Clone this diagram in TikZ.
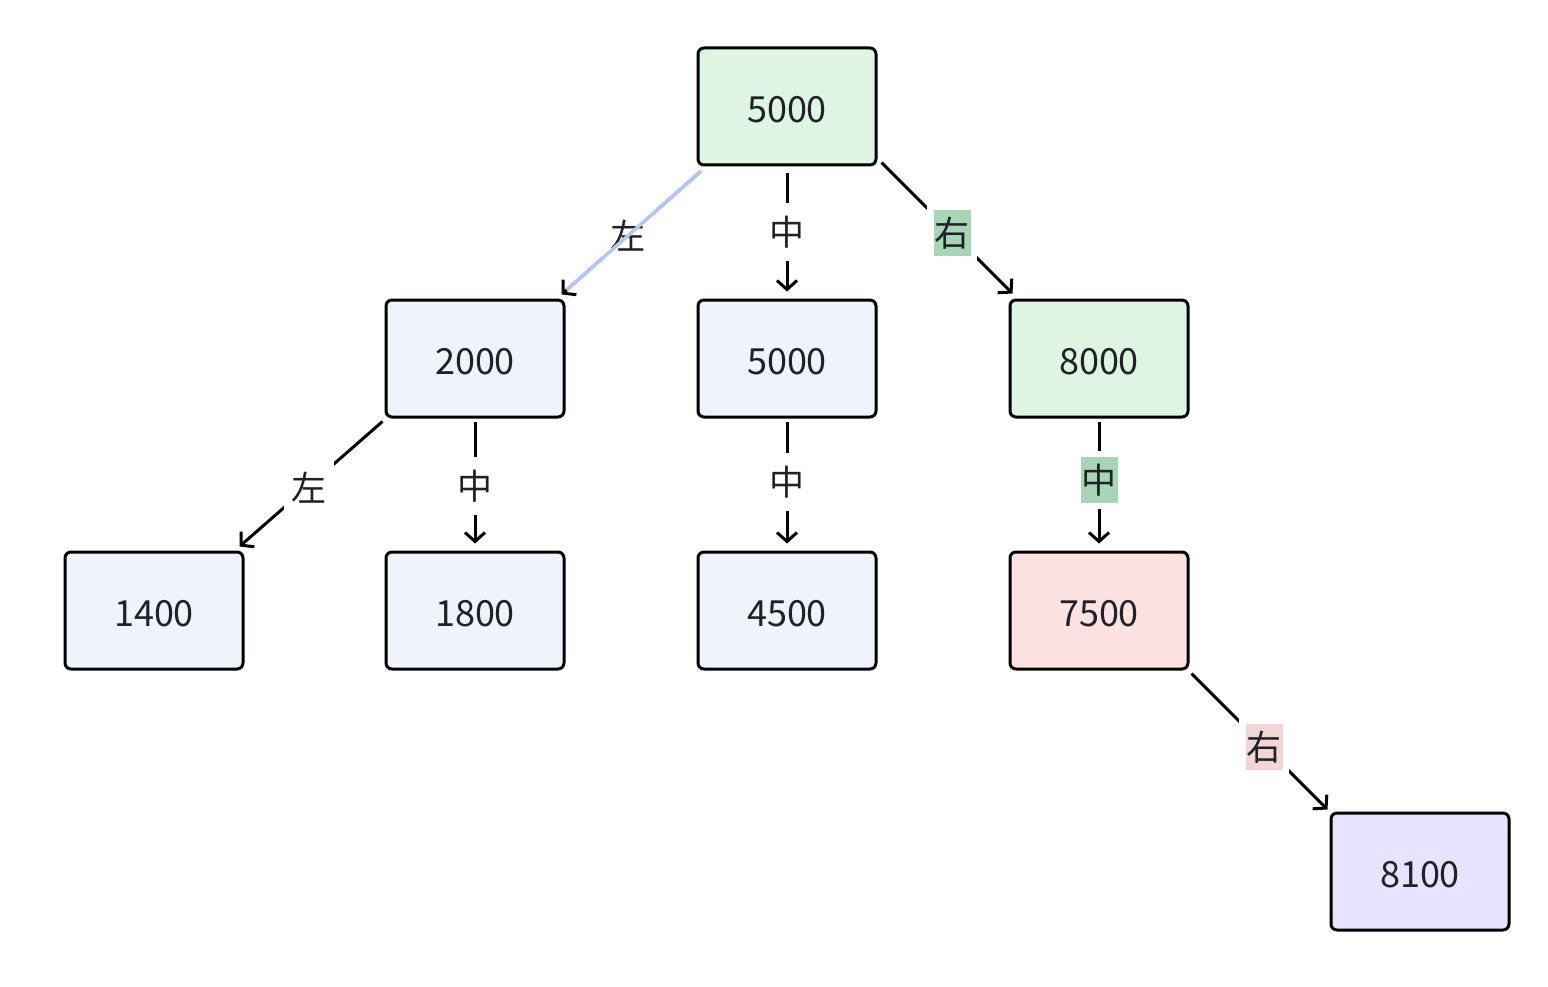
\documentclass[tikz,border=0pt]{standalone}
\usepackage{fontspec}
\setmainfont{Noto Sans CJK SC}
\usetikzlibrary{arrows.meta}
\definecolor{gfill}{HTML}{DFF5E4}
\definecolor{bfill}{HTML}{EFF3FC}
\definecolor{rfill}{HTML}{FEE2E2}
\definecolor{pfill}{HTML}{E9E3FD}
\definecolor{glab}{HTML}{A8D5B5}
\definecolor{rlab}{HTML}{F2D6D6}
\definecolor{bline}{HTML}{B4C8F0}
\definecolor{txt}{HTML}{1F2328}
\newcommand\bxt[1]{\raisebox{-3pt}[\height][\depth]{#1}}
\tikzset{
  box/.style={draw=black, line width=3pt, rounded corners=6pt, minimum width=178pt, minimum height=117pt, inner sep=0pt, text=txt, font=\fontsize{36}{42}\selectfont},
  edge/.style={draw=black, line width=3pt, -{Straight Barb[length=9pt,width=20pt,line width=3pt]}},
  lbl/.style={draw=white, line width=6.5pt, fill=white, inner xsep=4.25pt, inner ysep=9.75pt, text=txt, font=\fontsize{35}{42}\selectfont},
  lblc/.style={lbl, fill=#1},
}
\begin{document}
\begin{tikzpicture}[x=1pt,y=-1pt]
\useasboundingbox (0,0) rectangle (1548,987);
\node[box, fill=gfill] (a) at (787,106.5) {\bxt{5000}};
\node[box, fill=bfill] (b) at (475,358.5) {\bxt{2000}};
\node[box, fill=bfill] (c) at (787,358.5) {\bxt{5000}};
\node[box, fill=gfill] (d) at (1099,358.5) {\bxt{8000}};
\node[box, fill=bfill] (e) at (154,610.5) {\bxt{1400}};
\node[box, fill=bfill] (f) at (475,610.5) {\bxt{1800}};
\node[box, fill=bfill] (g) at (787,610.5) {\bxt{4500}};
\node[box, fill=rfill] (h) at (1099,610.5) {\bxt{7500}};
\node[box, fill=pfill] (i) at (1420,871.5) {\bxt{8100}};

\draw[edge] ([shift={(4,5)}]a.south west) -- ([shift={(-4,-4)}]b.north east);
\draw[edge, shorten <=7pt, shorten >=7pt] (a.south) -- (c.north);
\draw[edge] ([shift={(4,-4)}]a.south east) -- ([shift={(4,-5)}]d.north west);
\draw[edge] ([shift={(-2,3)}]b.south west) -- ([shift={(-5,-4)}]e.north east);
\draw[edge, shorten <=3pt, shorten >=7pt] (b.south) -- (f.north);
\draw[edge, shorten <=3pt, shorten >=7pt] (c.south) -- (g.north);
\draw[edge, shorten <=3pt, shorten >=7pt] (d.south) -- (h.north);
\draw[edge] ([shift={(2,3)}]h.south east) -- ([shift={(-2,-2)}]i.north west);

\node[lbl] (l1) at (628,236) {左};
\node[lbl] (l2) at (787,232) {中};
\node[lblc=glab] (l3) at (952,233) {右};
\node[lbl] (l4) at (309,488) {左};
\node[lbl] (l5) at (475,486) {中};
\node[lbl] (l6) at (787,482) {中};
\node[lblc=glab] (l7) at (1099,480) {中};
\node[lblc=rlab] (l8) at (1264,747) {右};

\draw[bline, line width=3.5pt, shorten >=7pt] ([shift={(4,5)}]a.south west) -- ([shift={(-4,-4)}]b.north east);
\end{tikzpicture}
\end{document}
